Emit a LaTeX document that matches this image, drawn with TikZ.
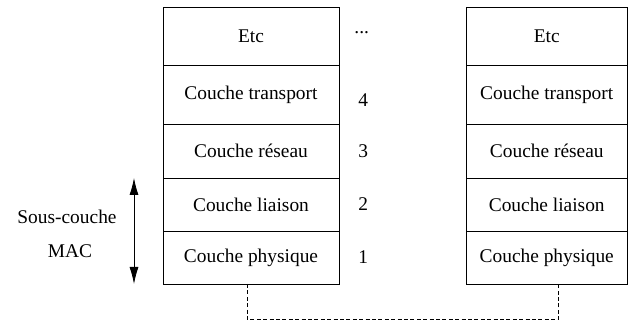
\documentclass[tikz,border=0pt]{standalone}
\usepackage{fontspec}
\setmainfont{Liberation Serif}
\usetikzlibrary{positioning,arrows.meta}
\tikzset{
	couche/.style = {
		shape=rectangle,
		draw,
		align=center,
		inner sep=0pt,
		outer sep=0pt,
		font=\fontsize{9.7}{11}\selectfont
	},
	numero/.style = {
		inner sep=0pt,
		font=\fontsize{9.7}{11}\selectfont
	},
	lien/.style = {
		draw,
		dash pattern=on 2pt off 1.2pt
	},
	fleche/.style = {
		{Latex[length=8.5pt,width=4.5pt]}-{Latex[length=8.5pt,width=4.5pt]}
	}
}

\begin{document}
\begin{tikzpicture}[x=0.5pt,y=0.5pt]
	\useasboundingbox (0,0) rectangle (628,322);
	% pile de gauche
	\node[couche, minimum width=88pt, minimum height=29pt] (etcA) at (251,286) {Etc};
	\node[couche, minimum width=88pt, minimum height=29.5pt, below=0pt of etcA] (transportA) {Couche transport};
	\node[couche, minimum width=88pt, minimum height=27pt, below=0pt of transportA] (reseauA) {Couche réseau};
	\node[couche, minimum width=88pt, minimum height=26.5pt, below=0pt of reseauA] (liaisonA) {Couche liaison};
	\node[couche, minimum width=88pt, minimum height=26.5pt, below=0pt of liaisonA] (physiqueA) {Couche physique};
	% numeros
	\node[numero, right=7.5pt of etcA, yshift=1.5pt] (numEtc) {...};
	\node[numero, right=9.5pt of transportA, yshift=-2.75pt] (num4) {4};
	\node[numero, right=9.5pt of reseauA] (num3) {3};
	\node[numero, right=9.5pt of liaisonA] (num2) {2};
	\node[numero, right=9.5pt of physiqueA] (num1) {1};
	% pile de droite
	\node[couche, minimum width=80.75pt, minimum height=29pt] (etcB) at (546.75,286) {Etc};
	\node[couche, minimum width=80.75pt, minimum height=29.5pt, below=0pt of etcB] (transportB) {Couche transport};
	\node[couche, minimum width=80.75pt, minimum height=27pt, below=0pt of transportB] (reseauB) {Couche réseau};
	\node[couche, minimum width=80.75pt, minimum height=26.5pt, below=0pt of reseauB] (liaisonB) {Couche liaison};
	\node[couche, minimum width=80.75pt, minimum height=26.5pt, below=0pt of liaisonB] (physiqueB) {Couche physique};
	% sous-couche MAC
	\node[numero] (sousCouche) at (67,105) {Sous-couche};
	\node[numero] (mac) at (70,71) {MAC};
	\coordinate (macHaut) at (134,144);
	\coordinate (macBas) at (134,38);
	\draw[fleche] (macHaut) -- (macBas);
	% support physique
	\coordinate (lienA) at ([xshift=-2pt]physiqueA.south);
	\coordinate (lienB) at ([xshift=6pt]physiqueB.south);
	\draw[lien] (lienA) -- ++(0,-35) -| (lienB);
\end{tikzpicture}
\end{document}
